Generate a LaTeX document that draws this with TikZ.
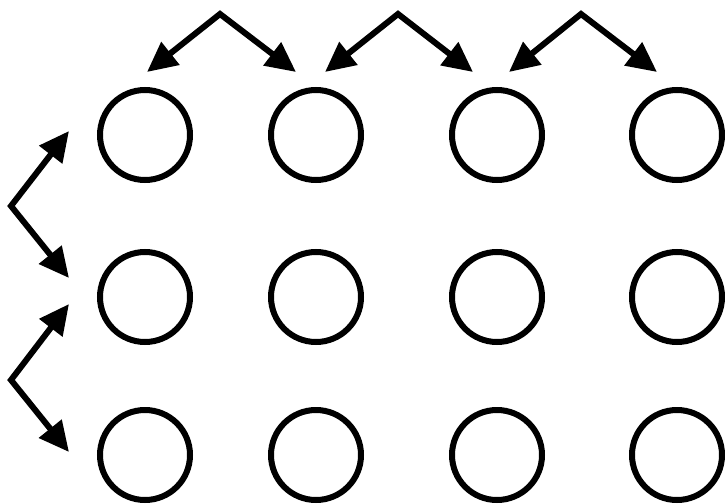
\documentclass[tikz,border=0pt]{standalone}
\usetikzlibrary{arrows.meta}
\begin{document}
\begin{tikzpicture}[x=1pt,y=-1pt,
  dot/.style={circle,draw=black,line width=6pt,minimum size=90pt,inner sep=0pt},
  arr/.style={line width=6pt,{Triangle[length=30pt,width=28pt]}-{Triangle[length=30pt,width=28pt]},line join=miter}]
\useasboundingbox (0,0) rectangle (725,503);
% circles
\foreach \c/\x in {1/145,2/316,3/497,4/677}{
  \foreach \r/\y in {1/135,2/297,3/455}{
    \node[dot] (n\r\c) at (\x,\y) {};
  }
}
% top arrows
\coordinate (a1) at (220,14);
\coordinate (a2) at (398,14);
\coordinate (a3) at (581,14);
\coordinate (t1l) at (147,72);
\coordinate (t1r) at (296,72);
\coordinate (t2l) at (325,72);
\coordinate (t2r) at (473,72);
\coordinate (t3l) at (509,72);
\coordinate (t3r) at (657,72);
\draw[arr] (t1l) -- (a1) -- (t1r);
\draw[arr] (t2l) -- (a2) -- (t2r);
\draw[arr] (t3l) -- (a3) -- (t3r);
% left arrows
\coordinate (b1) at (11,206);
\coordinate (b2) at (11,380);
\coordinate (s1u) at (69,131);
\coordinate (s1d) at (69,278);
\coordinate (s2u) at (69,304);
\coordinate (s2d) at (69,452);
\draw[arr] (s1u) -- (b1) -- (s1d);
\draw[arr] (s2u) -- (b2) -- (s2d);
\end{tikzpicture}
\end{document}
